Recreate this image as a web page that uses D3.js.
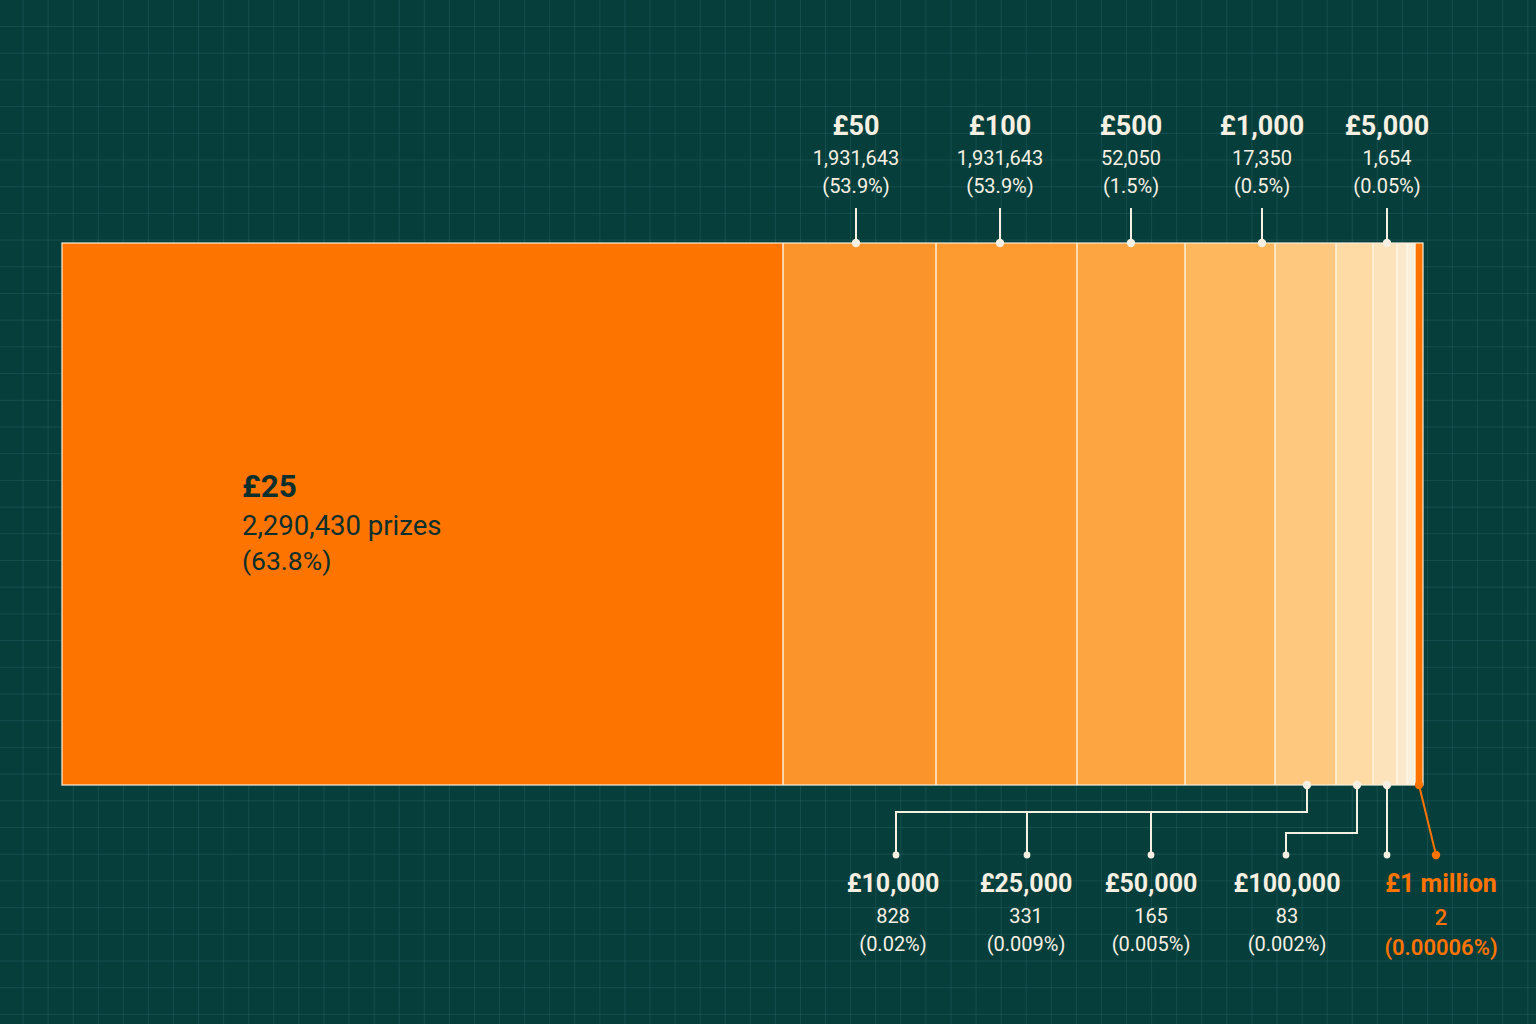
<!DOCTYPE html>
<html>
<head>
<meta charset="utf-8">
<script src="https://cdn.jsdelivr.net/npm/d3@7"></script>
<style>
  html, body { margin: 0; padding: 0; background: #063d3c; }
  svg { display: block; }
</style>
</head>
<body>
<script>
// prize tiers, left to right along the bar
var prizes = ["£25", "£50", "£100", "£500", "£1,000", "£5,000", "£10,000", "£25,000", "£50,000", "£100,000", "£1 million"];
var winners = [2290430, 1931643, 1931643, 52050, 17350, 1654, 828, 331, 165, 83, 2];
var shares = ["63.8%", "53.9%", "53.9%", "1.5%", "0.5%", "0.05%", "0.02%", "0.009%", "0.005%", "0.002%", "0.00006%"];
// segment widths as drawn in the picture (relative units)
var segWidths = [721, 153, 141, 108, 90, 61, 37, 24, 10, 8, 8];
var segColors = ["#fe7400", "#fc942c", "#fd9a30", "#fda641", "#feb75c", "#fec87f", "#fedba5", "#fde3bb", "#fbe9cd", "#f8efdc", "#ff7400"];

// callouts, positions in the same units as segWidths
var topCallouts = [
    { i: 1, at: 794 },
    { i: 2, at: 938 },
    { i: 3, at: 1069 },
    { i: 4, at: 1200 },
    { i: 5, at: 1325 }
];
var bottomCallouts = [
    { i: 6, from: 1245, elbow: 812, dot: 834, text: 831 },
    { i: 7, from: 1245, elbow: 812, dot: 965, text: 964 },
    { i: 8, from: 1245, elbow: 812, dot: 1089, text: 1089 },
    { i: 9, from: 1295, elbow: 833, dot: 1224, text: 1225 }
];

var W = 1536, H = 1024;
var barTop = 243, barBottom = 785;
var cream = "#f6f0e2", dark = "#0b2f2c", orange = "#ff7400";

var svg = d3.select("body")
    .append("svg")
    .attr("width", W)
    .attr("height", H);

svg.append("rect").attr("width", W).attr("height", H).attr("fill", "#063e3c");

// grid
var gx = d3.range(23, W, 25.08), gy = d3.range(26.5, H, 26.7);
svg.append("g")
    .attr("stroke", "#2a6663")
    .attr("stroke-opacity", 0.42)
    .attr("stroke-width", 1)
    .call(function (g) {
        g.selectAll(".vx").data(gx).enter().append("line")
            .attr("x1", function (d) { return d; }).attr("x2", function (d) { return d; })
            .attr("y1", 0).attr("y2", H);
        g.selectAll(".hy").data(gy).enter().append("line")
            .attr("y1", function (d) { return d; }).attr("y2", function (d) { return d; })
            .attr("x1", 0).attr("x2", W);
    });

var x = d3.scaleLinear()
    .domain([0, d3.sum(segWidths)])
    .range([62, 1423]);

var starts = [];
segWidths.reduce(function (acc, w) { starts.push(acc); return acc + w; }, 0);

var segs = prizes.map(function (p, i) {
    return { prize: p, n: winners[i], share: shares[i], x0: starts[i], x1: starts[i] + segWidths[i], color: segColors[i] };
});

var bar = svg.append("g");
bar.selectAll("rect")
    .data(segs)
    .enter()
    .append("rect")
    .attr("x", function (d) { return x(d.x0); })
    .attr("y", barTop)
    .attr("width", function (d) { return x(d.x1) - x(d.x0); })
    .attr("height", barBottom - barTop)
    .attr("fill", function (d) { return d.color; });

// separators
bar.selectAll("line")
    .data(segs.slice(1))
    .enter()
    .append("line")
    .attr("x1", function (d) { return x(d.x0); })
    .attr("x2", function (d) { return x(d.x0); })
    .attr("y1", barTop)
    .attr("y2", barBottom)
    .attr("stroke", "#fff6e6")
    .attr("stroke-width", 1.4);

bar.append("rect")
    .attr("x", x(0))
    .attr("y", barTop)
    .attr("width", x(d3.sum(segWidths)) - x(0))
    .attr("height", barBottom - barTop)
    .attr("fill", "none")
    .attr("stroke", "#fbeedb")
    .attr("stroke-width", 1.2);

var fmt = d3.format(",");
var font = "Roboto, 'Noto Sans', sans-serif";

// big label inside first segment
var big = svg.append("text")
    .attr("x", 242)
    .attr("font-family", font)
    .attr("fill", dark);
big.append("tspan").attr("x", 242).attr("y", 497).attr("font-size", 31.5).attr("font-weight", 700).text(segs[0].prize);
big.append("tspan").attr("x", 242).attr("y", 535).attr("font-size", 27.5).text(fmt(segs[0].n) + " prizes");
big.append("tspan").attr("x", 242).attr("y", 570).attr("font-size", 26.5).text("(" + segs[0].share + ")");

// top callouts
var tc = svg.append("g").selectAll("g")
    .data(topCallouts)
    .enter()
    .append("g")
    .attr("transform", function (d) { return "translate(" + x(d.at) + ",0)"; });

tc.append("line")
    .attr("y1", 208).attr("y2", barTop)
    .attr("stroke", cream).attr("stroke-width", 2);
tc.append("circle").attr("cy", barTop).attr("r", 4.2).attr("fill", cream);

tc.append("text")
    .attr("y", 135).attr("text-anchor", "middle")
    .attr("font-family", font).attr("font-size", 27).attr("font-weight", 700)
    .attr("fill", cream)
    .text(function (d) { return prizes[d.i]; });
tc.append("text")
    .attr("y", 165).attr("text-anchor", "middle")
    .attr("font-family", font).attr("font-size", 20)
    .attr("fill", cream)
    .text(function (d) { return fmt(winners[d.i]); });
tc.append("text")
    .attr("y", 193).attr("text-anchor", "middle")
    .attr("font-family", font).attr("font-size", 20)
    .attr("fill", cream)
    .text(function (d) { return "(" + shares[d.i] + ")"; });

// bottom callouts
var conn = svg.append("g")
    .attr("fill", "none")
    .attr("stroke", cream)
    .attr("stroke-width", 2);

conn.selectAll("path")
    .data(bottomCallouts)
    .enter()
    .append("path")
    .attr("d", function (d) {
        return "M" + x(d.from) + "," + barBottom +
            "V" + d.elbow +
            "H" + x(d.dot) +
            "V855";
    });

// straight leader next to the £1 million label
conn.append("line")
    .attr("x1", x(1325)).attr("x2", x(1325))
    .attr("y1", barBottom).attr("y2", 855);

var anchorDots = [1245, 1295, 1325];
svg.append("g").selectAll("circle")
    .data(anchorDots)
    .enter()
    .append("circle")
    .attr("cx", function (d) { return x(d); })
    .attr("cy", barBottom)
    .attr("r", 4.2)
    .attr("fill", cream);

svg.append("g").selectAll("circle")
    .data(bottomCallouts.map(function (d) { return d.dot; }).concat([1325]))
    .enter()
    .append("circle")
    .attr("cx", function (d) { return x(d); })
    .attr("cy", 855)
    .attr("r", 3.4)
    .attr("fill", cream);

var bl = svg.append("g").selectAll("g")
    .data(bottomCallouts)
    .enter()
    .append("g")
    .attr("transform", function (d) { return "translate(" + x(d.text) + ",0)"; });

bl.append("text")
    .attr("y", 892).attr("text-anchor", "middle")
    .attr("font-family", font).attr("font-size", 25).attr("font-weight", 700)
    .attr("fill", cream)
    .text(function (d) { return prizes[d.i]; });
bl.append("text")
    .attr("y", 923).attr("text-anchor", "middle")
    .attr("font-family", font).attr("font-size", 20)
    .attr("fill", cream)
    .text(function (d) { return fmt(winners[d.i]); });
bl.append("text")
    .attr("y", 951).attr("text-anchor", "middle")
    .attr("font-family", font).attr("font-size", 20)
    .attr("fill", cream)
    .text(function (d) { return "(" + shares[d.i] + ")"; });

// £1 million, highlighted in orange
var jackpot = segs[segs.length - 1];
var jackpotMid = (jackpot.x0 + jackpot.x1) / 2;
svg.append("line")
    .attr("x1", x(jackpotMid)).attr("y1", barBottom)
    .attr("x2", x(1374)).attr("y2", 855)
    .attr("stroke", orange).attr("stroke-width", 2);
svg.append("circle").attr("cx", x(jackpotMid)).attr("cy", barBottom).attr("r", 4.2).attr("fill", orange);
svg.append("circle").attr("cx", x(1374)).attr("cy", 855).attr("r", 4.2).attr("fill", orange);

var mil = svg.append("g").attr("transform", "translate(" + x(1379) + ",0)")
    .attr("font-family", font).attr("text-anchor", "middle").attr("fill", orange);
mil.append("text").attr("y", 892).attr("font-size", 25).attr("font-weight", 700).text(jackpot.prize);
mil.append("text").attr("y", 925).attr("font-size", 22).attr("font-weight", 500).text(fmt(jackpot.n));
mil.append("text").attr("y", 955).attr("font-size", 22).attr("font-weight", 600).text("(" + jackpot.share + ")");
</script>
</body>
</html>
